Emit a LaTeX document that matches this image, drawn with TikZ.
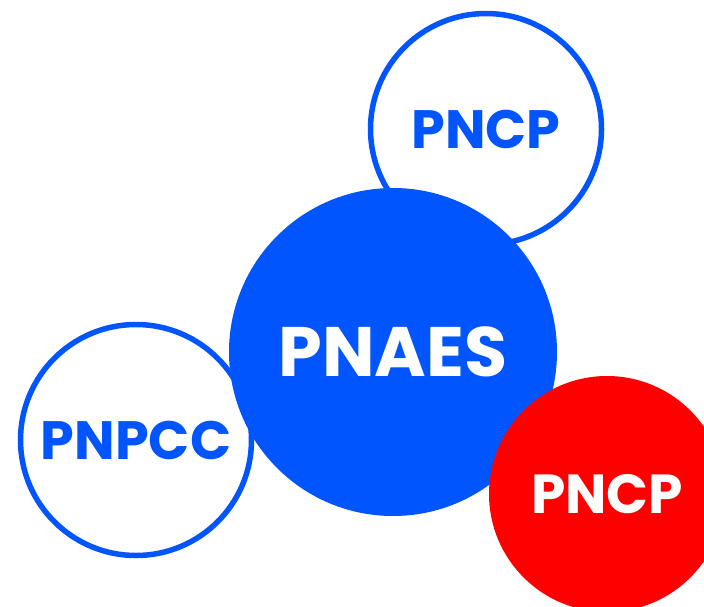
\documentclass[tikz,border=0pt]{standalone}
\usepackage{fontspec}
\setmainfont{Poppins}[BoldFont={Poppins Bold}]
\usepackage{tikz}
\usepackage{xcolor}
\definecolor{pblue}{HTML}{0055FF}
\definecolor{pred}{HTML}{FF0000}

\begin{document}
\begin{tikzpicture}[x=1pt, y=-1pt, font=\bfseries,
                    ring/.style={circle, draw=pblue, line width=5.5pt, fill=white, text=pblue,
                                 inner sep=0pt, minimum size=231pt, font=\fontsize{54}{54}\bfseries},
                    disc/.style={circle, fill=#1, text=white, inner sep=0pt}]

                    \useasboundingbox (0,0) rectangle (704,607);

                    \node[ring] (pncp) at (486,129) {PNCP};
                    \node[ring] (pnpcc) at (136,440) {PNPCC};
                    \node[disc=pblue, minimum size=328pt, font=\fontsize{70}{70}\bfseries] (pnaes) at (393,352) {PNAES};
                    \node[disc=pred, minimum size=236pt, font=\fontsize{55}{55}\bfseries] (pncpred) at (607,494) {PNCP};
                \end{tikzpicture}
\end{document}
